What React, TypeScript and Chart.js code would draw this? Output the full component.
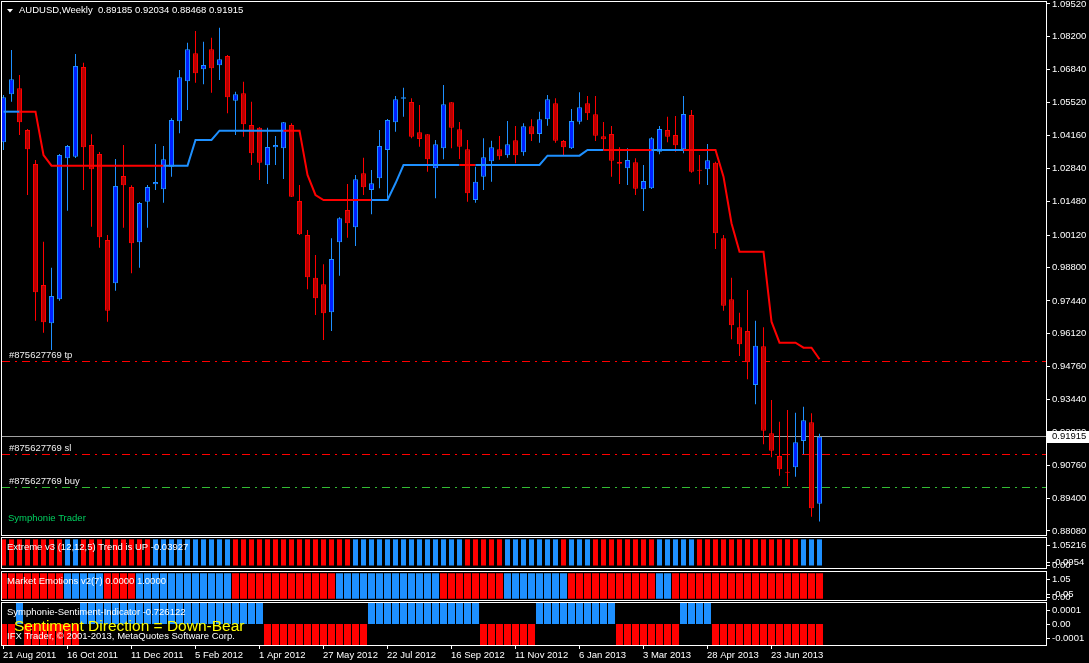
import { useEffect, useRef } from "react";
import { Chart, registerables } from "chart.js";

Chart.register(...registerables);

// ---------------- data ----------------
const SYMBOL = "AUDUSD";
const PERIOD = "Weekly";

const OPEN = [
  1.03894, 1.05847, 1.06091, 1.04394, 1.03011, 0.98088, 0.9653, 0.97507, 1.03243, 1.03308,
  1.06957, 1.03784, 1.03418, 0.99919, 0.98158, 1.02523, 1.02075, 0.99826, 1.01477, 1.02185,
  1.01982, 1.02901, 1.04748, 1.06375, 1.07515, 1.06864, 1.07677, 1.07026, 1.07405, 1.05586,
  1.05887, 1.04598, 1.04488, 1.02958, 1.03691, 1.0365, 1.04598, 1.01506, 1.00122, 0.98385,
  0.98117, 0.96978, 0.99826, 1.0114, 1.00436, 1.02633, 1.01953, 1.02429, 1.03581, 1.04708,
  1.05668, 1.05533, 1.04301, 1.04219, 1.02836, 1.0365, 1.05521, 1.04423, 1.03609, 1.01546,
  1.02494, 1.03121, 1.03609, 1.03365, 1.03975, 1.03487, 1.04545, 1.04231, 1.04829, 1.0548,
  1.03947, 1.0365, 1.04732, 1.0548, 1.05033, 1.04138, 1.04231, 1.03092, 1.02836, 1.0308,
  1.01982, 1.02022, 1.03511, 1.04394, 1.04191, 1.03609, 1.05004, 1.02767, 1.02795, 1.03064,
  0.99988, 0.97507, 0.96367, 0.96217, 0.9402, 0.95594, 0.92055, 0.91132, 0.90469, 0.90672,
  0.91742, 0.92502, 0.89185,
];
const HIGH = [
  1.05818, 1.07649, 1.06632, 1.04435, 1.03174, 0.9985, 0.98792, 1.03418, 1.03784, 1.07486,
  1.07132, 1.04219, 1.03499, 1.00122, 1.03214, 1.03784, 1.02144, 1.01465, 1.02157, 1.03825,
  1.03743, 1.0487, 1.06835, 1.07946, 1.08422, 1.07987, 1.08149, 1.08556, 1.07445, 1.05952,
  1.06359, 1.05546, 1.04516, 1.04488, 1.0415, 1.0472, 1.04667, 1.02157, 1.00326, 0.99309,
  0.98931, 0.99988, 1.00843, 1.02197, 1.02563, 1.03267, 1.02767, 1.04394, 1.04842, 1.05777,
  1.06115, 1.05684, 1.05411, 1.04231, 1.03987, 1.06225, 1.05533, 1.0472, 1.03987, 1.02901,
  1.04056, 1.03959, 1.0415, 1.0476, 1.04557, 1.04667, 1.04829, 1.05139, 1.05818, 1.05684,
  1.03987, 1.05249, 1.05928, 1.05777, 1.05777, 1.0472, 1.04557, 1.03691, 1.0365, 1.03243,
  1.0297, 1.04097, 1.04557, 1.04935, 1.04964, 1.05777, 1.05208, 1.03377, 1.03825, 1.03105,
  1.00122, 0.98385, 0.96962, 0.97885, 0.96636, 0.96367, 0.9341, 0.92527, 0.93003, 0.92893,
  0.93137, 0.92869, 0.92034,
];
const LOW = [
  1.03581, 1.05546, 1.04191, 1.0175, 0.96636, 0.96148, 0.95444, 0.9745, 1.01111, 1.0325,
  1.01953, 1.0046, 0.99606, 0.96595, 0.97856, 1.00419, 0.98564, 0.98792, 1.00419, 1.01953,
  1.01436, 1.02494, 1.0426, 1.05208, 1.06319, 1.06253, 1.05912, 1.06428, 1.05074, 1.04191,
  1.04122, 1.0297, 1.0236, 1.02197, 1.0297, 1.02401, 1.01668, 1.0012, 0.97913, 0.96868,
  0.95851, 0.96217, 0.98467, 1.00013, 0.99675, 1.0175, 1.00965, 1.02022, 1.01616, 1.04325,
  1.04935, 1.04057, 1.03715, 1.02698, 1.01616, 1.03202, 1.0365, 1.03214, 1.01477, 1.01436,
  1.01953, 1.02291, 1.03186, 1.03267, 1.03039, 1.03349, 1.03947, 1.03878, 1.04569, 1.03878,
  1.03349, 1.03621, 1.04626, 1.04801, 1.03947, 1.03581, 1.02494, 1.02197, 1.02157, 1.0175,
  1.01099, 1.01994, 1.03406, 1.03894, 1.03511, 1.03446, 1.02657, 1.02185, 1.02157, 0.99553,
  0.97043, 0.95879, 0.952, 0.94252, 0.93235, 0.91608, 0.91078, 0.9033, 0.89911, 0.9029,
  0.91201, 0.88662, 0.88468,
];
const CLOSE = [
  1.05725, 1.06457, 1.04708, 1.03609, 0.97791, 0.96571, 0.97641, 1.03377, 1.03743, 1.06998,
  1.0369, 1.02795, 1.00029, 0.97043, 1.02116, 1.02144, 0.99785, 1.01424, 1.02075, 1.02279,
  1.03202, 1.04801, 1.06538, 1.07677, 1.06701, 1.07039, 1.06904, 1.07271, 1.05725, 1.05847,
  1.04626, 1.03446, 1.03064, 1.03703, 1.03784, 1.04708, 1.01681, 1.00151, 0.98402, 0.97547,
  0.96937, 0.99146, 1.00802, 1.00598, 1.02389, 1.02063, 1.02226, 1.03743, 1.04801, 1.05643,
  1.05725, 1.04122, 1.04028, 1.03202, 1.03812, 1.0544, 1.04488, 1.03715, 1.01819, 1.02291,
  1.03283, 1.03691, 1.03324, 1.03812, 1.03365, 1.04545, 1.04219, 1.04829, 1.05643, 1.03959,
  1.03691, 1.0476, 1.05318, 1.05074, 1.04162, 1.04016, 1.03145, 1.03023, 1.03174, 1.02006,
  1.02319, 1.04056, 1.04435, 1.04122, 1.03772, 1.05045, 1.02698, 1.02738, 1.03161, 1.00192,
  0.97246, 0.96449, 0.95676, 0.94944, 0.95619, 0.92161, 0.91347, 0.9059, 0.90452, 0.91689,
  0.92584, 0.89004, 0.91915,
];

// Symphonie trailing line (price) and its trend (1 = up / blue, -1 = down / red)
const STOP_LINE = [
  1.05139, 1.05139, 1.05139, 1.05139, 1.05139, 1.03377, 1.02942, 1.02942, 1.02942, 1.02942,
  1.02942, 1.02942, 1.02942, 1.02942, 1.02942, 1.02942, 1.02942, 1.02942, 1.02942, 1.02942,
  1.02942, 1.02942, 1.02942, 1.02942, 1.03987, 1.03987, 1.03987, 1.04366, 1.04366, 1.04366,
  1.04366, 1.04366, 1.04366, 1.04366, 1.04366, 1.04366, 1.04366, 1.04366, 1.02563, 1.0175,
  1.01546, 1.01546, 1.01546, 1.01546, 1.01546, 1.01546, 1.01546, 1.01546, 1.01546, 1.02226,
  1.0297, 1.0297, 1.0297, 1.0297, 1.0297, 1.0297, 1.0297, 1.0297, 1.0297, 1.0297,
  1.0297, 1.0297, 1.0297, 1.0297, 1.0297, 1.0297, 1.0297, 1.0297, 1.03349, 1.03349,
  1.03349, 1.03349, 1.03349, 1.03581, 1.03581, 1.03581, 1.03581, 1.03581, 1.03581, 1.03581,
  1.03581, 1.03581, 1.03581, 1.03581, 1.03581, 1.03581, 1.03581, 1.03581, 1.03581, 1.03581,
  1.02494, 1.00599, 0.99443, 0.99443, 0.99443, 0.99443, 0.96595, 0.95741, 0.95741, 0.95741,
  0.95537, 0.95537, 0.95065,
];
const STOP_TREND = [
  1, 1, -1, -1, -1, -1, -1, -1, -1, -1,
  -1, -1, -1, -1, -1, -1, -1, -1, -1, -1,
  1, 1, 1, 1, 1, 1, 1, 1, 1, 1,
  1, 1, 1, 1, 1, -1, -1, -1, -1, -1,
  -1, -1, -1, -1, -1, -1, 1, 1, 1, 1,
  1, 1, 1, 1, 1, 1, 1, -1, -1, 1,
  1, 1, 1, 1, 1, 1, 1, 1, 1, 1,
  1, 1, 1, 1, 1, -1, -1, -1, -1, -1,
  -1, 1, 1, 1, 1, -1, -1, -1, -1, -1,
  -1, -1, -1, -1, -1, -1, -1, -1, -1, -1,
  -1, -1, -1,
];

// Sub-window indicators (1 = up / blue, -1 = down / red)
const EXTREME_TREND = [
  -1, -1, -1, -1, -1, -1, -1, -1, 1, 1,
  -1, -1, -1, -1, -1, -1, -1, -1, -1, 1,
  1, 1, 1, 1, 1, 1, 1, 1, 1, -1,
  -1, -1, -1, -1, -1, -1, -1, -1, -1, -1,
  -1, -1, -1, -1, 1, 1, 1, 1, 1, 1,
  1, 1, 1, 1, 1, 1, 1, 1, -1, -1,
  -1, -1, -1, 1, 1, 1, 1, 1, 1, 1,
  -1, 1, 1, 1, -1, -1, -1, -1, -1, -1,
  -1, -1, 1, 1, 1, 1, 1, -1, -1, -1,
  -1, -1, -1, -1, -1, -1, -1, -1, -1, -1,
  1, 1, 1,
];
const EMOTION_TREND = [
  -1, -1, -1, -1, -1, -1, -1, -1, 1, 1,
  1, 1, 1, -1, -1, -1, -1, 1, 1, 1,
  1, 1, 1, 1, 1, 1, 1, 1, 1, -1,
  -1, -1, -1, -1, -1, -1, -1, -1, -1, -1,
  -1, -1, 1, 1, 1, 1, 1, 1, 1, 1,
  1, 1, 1, 1, 1, -1, -1, -1, -1, -1,
  -1, -1, -1, 1, 1, 1, 1, 1, 1, 1,
  1, -1, -1, -1, -1, -1, -1, -1, -1, -1,
  -1, -1, 1, 1, -1, -1, -1, -1, -1, -1,
  -1, -1, -1, -1, -1, -1, -1, -1, -1, -1,
  -1, -1, -1,
];
const SENTIMENT_TREND = [
  -1, -1, 1, -1, -1, -1, -1, -1, -1, -1,
  1, 1, 1, 1, 1, 1, 1, 1, 1, 1,
  1, 1, 1, 1, 1, 1, 1, 1, 1, 1,
  1, 1, 1, -1, -1, -1, -1, -1, -1, -1,
  -1, -1, -1, -1, -1, -1, 1, 1, 1, 1,
  1, 1, 1, 1, 1, 1, 1, 1, 1, 1,
  -1, -1, -1, -1, -1, -1, -1, 1, 1, 1,
  1, 1, 1, 1, 1, 1, 1, -1, -1, -1,
  -1, -1, -1, -1, -1, 1, 1, 1, 1, -1,
  -1, -1, -1, -1, -1, -1, -1, -1, -1, -1,
  -1, -1, -1,
];
const EXTREME_BAR = 1;
const EMOTION_BAR = 1;
const SENTIMENT_BAR = 0.000147;

// price axis
const PRICE_MIN = 0.87917;
const PRICE_MAX = 1.09601;
const PRICE_TICKS = [
  1.0952, 1.082, 1.0684, 1.0552, 1.0416, 1.0284, 1.0148, 1.0012, 0.988, 0.9744,
  0.9612, 0.9476, 0.9344, 0.9208, 0.9076, 0.894, 0.8808,
];

// orders
const ORDER_TICKET = "#875627769";
const ORDER_NAMES = ["tp", "sl", "buy"];
const ORDER_LEVELS = [0.94968, 0.91201, 0.89859];
const ORDER_COLORS = ["#FF0000", "#FF0000", "#33BB33"];

// time axis
const DATE_LABELS = [
  "21 Aug 2011", "16 Oct 2011", "11 Dec 2011", "5 Feb 2012", "1 Apr 2012", "27 May 2012",
  "22 Jul 2012", "16 Sep 2012", "11 Nov 2012", "6 Jan 2013", "3 Mar 2013", "28 Apr 2013",
  "23 Jun 2013",
];
const WEEKS_PER_LABEL = 8;

// texts
const EXTREME_TITLE = "Extreme v3 (12,12,5) Trend is UP -0.03927";
const EMOTION_TITLE = "Market Emotions v2(7) 0.0000 1.0000";
const SENTIMENT_TITLE = "Symphonie-Sentiment-Indicator -0.726122";
const SENTIMENT_TEXT = "Sentiment Direction = Down-Bear";
const COPYRIGHT = "IFX Trader, \u00A9 2001-2013, MetaQuotes Software Corp.";
const TRADER_TEXT = "Symphonie Trader";

const EXTREME_LABELS = [
  { v: 1.05216, text: "1.05216" },
  { v: -0.0954, text: "-0.0954" },
  { v: 0, text: "0.00" },
];
const EMOTION_LABELS = [
  { v: 1.05, text: "1.05" },
  { v: -0.05, text: "-0.05" },
  { v: 0, text: "0.00" },
];
const SENTIMENT_LABELS = [
  { v: 0.0001, text: "0.0001" },
  { v: 0, text: "0.00" },
  { v: -0.0001, text: "-0.0001" },
];

// ---------------- styling ----------------
const X_MIN = -0.1875;
const X_MAX = 130.3125;
const BLUE = "#1E90FF";
const RED = "#FF0000";
const BULL_FILL = "#0020FF";
const BEAR_FILL = "#B80000";
const WHITE = "#FFFFFF";
const FAMILY = '"Liberation Sans", Arial, sans-serif';
const SMALL = `9.5px ${FAMILY}`;

function text(ctx: any, s: string, x: number, y: number, color: string, font = SMALL) {
  ctx.font = font;
  ctx.fillStyle = color;
  ctx.textAlign = "left";
  ctx.textBaseline = "middle";
  ctx.fillText(s, x, y);
}

function frame(chart: any) {
  const { ctx, chartArea: a } = chart;
  ctx.strokeStyle = WHITE;
  ctx.lineWidth = 1;
  ctx.setLineDash([]);
  ctx.strokeRect(a.left - 0.5, a.top - 0.5, a.right - a.left + 1, a.bottom - a.top + 1);
}

function tick(ctx: any, a: any, py: number) {
  const row = Math.floor(py) + 0.5;
  ctx.strokeStyle = WHITE;
  ctx.lineWidth = 1;
  ctx.beginPath();
  ctx.moveTo(a.right + 1, row);
  ctx.lineTo(a.right + 4, row);
  ctx.stroke();
}

const mainPlugin = {
  id: "mainPanel",
  beforeDatasetsDraw(chart: any) {
    const { ctx, chartArea: a, scales } = chart;
    const y = scales.y;
    ctx.save();
    ctx.lineWidth = 1;
    // current bid line
    const last = CLOSE[CLOSE.length - 1];
    const by = Math.floor(y.getPixelForValue(last)) + 0.5;
    ctx.strokeStyle = "#A0A0A0";
    ctx.setLineDash([]);
    ctx.beginPath();
    ctx.moveTo(a.left, by);
    ctx.lineTo(a.right, by);
    ctx.stroke();
    // order lines
    ORDER_LEVELS.forEach((lv, i) => {
      const py = Math.floor(y.getPixelForValue(lv)) + 0.5;
      ctx.strokeStyle = ORDER_COLORS[i];
      ctx.setLineDash([8, 5, 2, 5]);
      ctx.beginPath();
      ctx.moveTo(a.left, py);
      ctx.lineTo(a.right, py);
      ctx.stroke();
    });
    ctx.restore();
  },
  afterDraw(chart: any) {
    const { ctx, chartArea: a, scales } = chart;
    const y = scales.y;
    ctx.save();
    frame(chart);
    PRICE_TICKS.forEach((v) => {
      const py = y.getPixelForValue(v);
      tick(ctx, a, py);
      text(ctx, v.toFixed(5), a.right + 6, py, WHITE);
    });
    // current price box
    const last = CLOSE[CLOSE.length - 1];
    const ly = y.getPixelForValue(last);
    ctx.fillStyle = WHITE;
    ctx.fillRect(a.right + 1, Math.round(ly) - 6, 42, 12);
    text(ctx, last.toFixed(5), a.right + 6, ly, "#000000");
    // title
    ctx.fillStyle = WHITE;
    ctx.beginPath();
    ctx.moveTo(7, 9);
    ctx.lineTo(13, 9);
    ctx.lineTo(10, 12.5);
    ctx.closePath();
    ctx.fill();
    const n = CLOSE.length - 1;
    const title = `${SYMBOL},${PERIOD}  ${OPEN[n].toFixed(5)} ${HIGH[n].toFixed(5)} ${LOW[n].toFixed(5)} ${CLOSE[n].toFixed(5)}`;
    text(ctx, title, 19, 10.5, WHITE);
    // order labels
    ORDER_LEVELS.forEach((lv, i) => {
      const py = Math.floor(y.getPixelForValue(lv));
      text(ctx, `${ORDER_TICKET} ${ORDER_NAMES[i]}`, 9, py - 6, "#EEEEEE");
    });
    text(ctx, TRADER_TEXT, 8, 518, "#00D060");
    ctx.restore();
  },
};

function panelPlugin(id: string, title: string, labels: { v: number; text: string }[], extra?: (c: any) => void) {
  return {
    id,
    afterDraw(chart: any) {
      const { ctx, chartArea: a, scales } = chart;
      const y = scales.y;
      ctx.save();
      frame(chart);
      labels.forEach(({ v, text: s }) => {
        const py = y.getPixelForValue(v);
        const cy = Math.min(Math.max(py, a.top + 7), a.bottom - (v === 0 ? 3 : 6));
        tick(ctx, a, cy);
        text(ctx, s, a.right + 6, cy, WHITE);
      });
      text(ctx, title, 7, a.top + 9, WHITE);
      if (extra) extra(chart);
      ctx.restore();
    },
  };
}

function sentimentExtra(chart: any) {
  const { ctx, chartArea: a, scales } = chart;
  text(ctx, SENTIMENT_TEXT, 14, a.top + 23.5, "#FFFF00", `15.5px ${FAMILY}`);
  text(ctx, COPYRIGHT, 7, a.top + 33, WHITE);
  DATE_LABELS.forEach((label, j) => {
    const px = scales.x.getPixelForValue(j * WEEKS_PER_LABEL);
    const col = Math.floor(px) + 0.5;
    ctx.strokeStyle = WHITE;
    ctx.lineWidth = 1;
    ctx.beginPath();
    ctx.moveTo(col, a.bottom + 1);
    ctx.lineTo(col, a.bottom + 4);
    ctx.stroke();
    text(ctx, label, Math.floor(px), a.bottom + 10, WHITE);
  });
}

const xScale = { type: "linear", min: X_MIN, max: X_MAX, offset: false, display: false };

function baseOptions(yMin: number, yMax: number, padding: any) {
  return {
    animation: false,
    responsive: false,
    events: [],
    layout: { padding },
    plugins: { legend: { display: false }, tooltip: { enabled: false } },
    scales: {
      x: xScale,
      y: { type: "linear", min: yMin, max: yMax, display: false },
    },
  };
}

function histogram(trend: number[], height: number, signed: boolean, thickness: number) {
  return {
    type: "bar",
    data: trend.map((t, i) => ({ x: i, y: signed ? t * height : height })),
    backgroundColor: trend.map((t) => (t > 0 ? BLUE : RED)),
    borderWidth: 0,
    barThickness: thickness,
    grouped: false,
    inflateAmount: 0,
  };
}

export default function App() {
  const mainRef = useRef<HTMLCanvasElement>(null);
  const extRef = useRef<HTMLCanvasElement>(null);
  const emoRef = useRef<HTMLCanvasElement>(null);
  const senRef = useRef<HTMLCanvasElement>(null);

  useEffect(() => {
    const bull = OPEN.map((o, i) => CLOSE[i] >= o);
    const main = new Chart(mainRef.current as any, {
      type: "bar",
      data: {
        datasets: [
          {
            type: "line",
            data: STOP_LINE.map((v, i) => ({ x: i, y: v })),
            borderWidth: 2,
            borderColor: RED,
            pointRadius: 0,
            tension: 0,
            segment: { borderColor: (c: any) => (STOP_TREND[c.p0DataIndex] > 0 ? BLUE : RED) },
            order: 0,
          },
          {
            type: "bar",
            data: OPEN.map((o, i) => ({ x: i, y: [o, CLOSE[i]] })),
            backgroundColor: bull.map((b) => (b ? BULL_FILL : BEAR_FILL)),
            borderColor: bull.map((b) => (b ? BLUE : RED)),
            borderWidth: 1,
            borderSkipped: false,
            barThickness: 5,
            minBarLength: 1,
            grouped: false,
            inflateAmount: 0,
            order: 1,
          },
          {
            type: "bar",
            data: LOW.map((l, i) => ({ x: i, y: [l, HIGH[i]] })),
            backgroundColor: bull.map((b) => (b ? BLUE : RED)),
            borderWidth: 0,
            barThickness: 1,
            grouped: false,
            inflateAmount: 0,
            order: 2,
          },
        ],
      } as any,
      options: baseOptions(PRICE_MIN, PRICE_MAX, { left: 2, right: 43, top: 2, bottom: 1 }) as any,
      plugins: [mainPlugin],
    });

    const ext = new Chart(extRef.current as any, {
      type: "bar",
      data: { datasets: [histogram(EXTREME_TREND, EXTREME_BAR, false, 5)] } as any,
      options: baseOptions(-0.0954, 1.05216, { left: 2, right: 43, top: 2, bottom: 2 }) as any,
      plugins: [panelPlugin("extremePanel", EXTREME_TITLE, EXTREME_LABELS)],
    });

    const emo = new Chart(emoRef.current as any, {
      type: "bar",
      data: { datasets: [histogram(EMOTION_TREND, EMOTION_BAR, false, 7)] } as any,
      options: baseOptions(-0.05, 1.05, { left: 2, right: 43, top: 2, bottom: 2 }) as any,
      plugins: [panelPlugin("emotionPanel", EMOTION_TITLE, EMOTION_LABELS)],
    });

    const sen = new Chart(senRef.current as any, {
      type: "bar",
      data: { datasets: [histogram(SENTIMENT_TREND, SENTIMENT_BAR, true, 7)] } as any,
      options: baseOptions(-SENTIMENT_BAR, SENTIMENT_BAR, { left: 2, right: 43, top: 1, bottom: 18 }) as any,
      plugins: [panelPlugin("sentimentPanel", SENTIMENT_TITLE, SENTIMENT_LABELS, sentimentExtra)],
    });

    return () => {
      main.destroy();
      ext.destroy();
      emo.destroy();
      sen.destroy();
    };
  }, []);

  const abs = (top: number): any => ({ position: "absolute", left: 0, top, display: "block" });

  return (
    <div style={{ position: "fixed", left: 0, top: 0, width: 1089, height: 663, background: "#000", overflow: "hidden" }}>
      <canvas ref={mainRef} width={1089} height={536} style={abs(0)} />
      <canvas ref={extRef} width={1089} height={34} style={abs(536)} />
      <canvas ref={emoRef} width={1089} height={32} style={abs(570)} />
      <canvas ref={senRef} width={1089} height={61} style={abs(602)} />
    </div>
  );
}
